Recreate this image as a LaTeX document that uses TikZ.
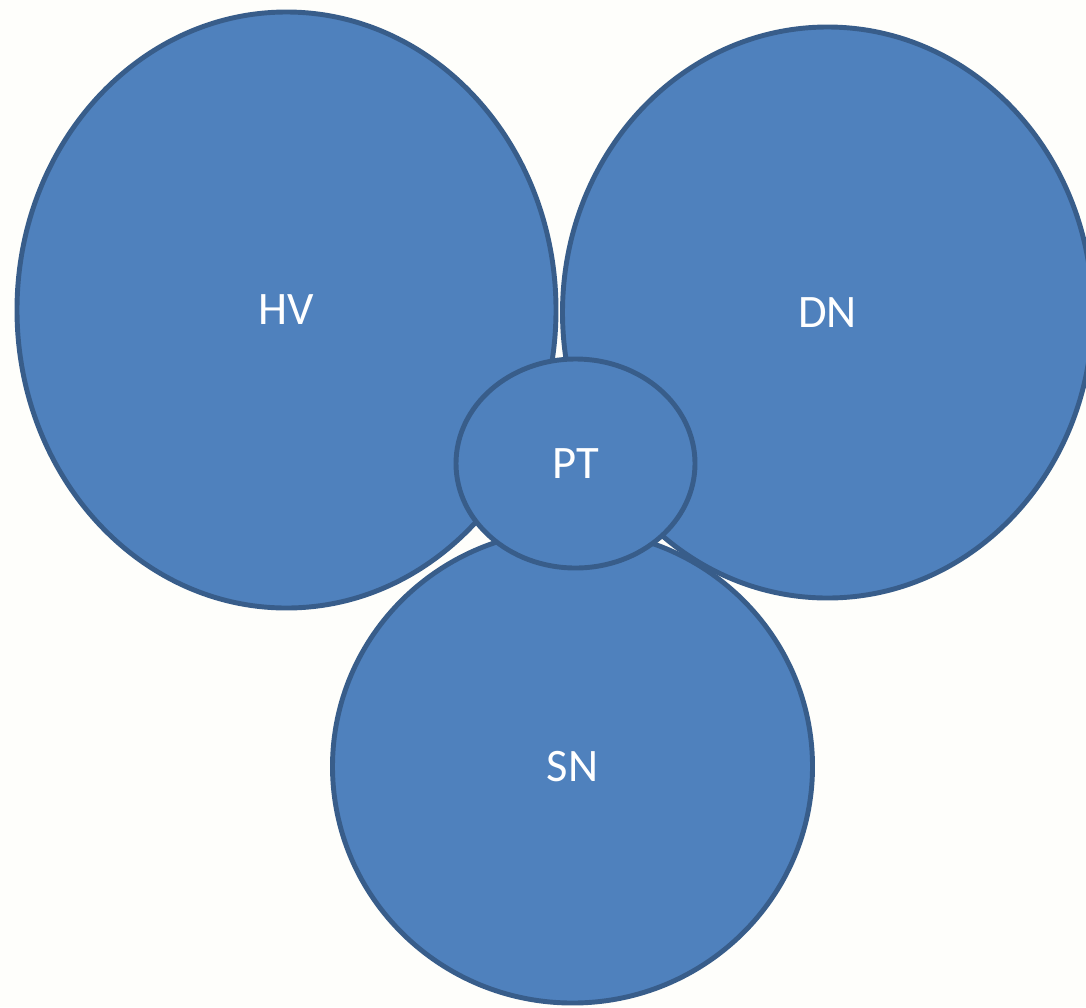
\documentclass[tikz,border=0pt]{standalone}
\usepackage{fontspec}
\setmainfont{Carlito}
\usetikzlibrary{shapes.geometric}
\definecolor{blobfill}{RGB}{79,129,189}
\definecolor{blobedge}{RGB}{56,93,138}
\definecolor{paper}{RGB}{254,254,251}
\tikzset{
  blob/.style={ellipse, draw=blobedge, fill=blobfill, line width=2.8pt, inner sep=0pt,
    text=white, font=\fontsize{26.5}{30}\selectfont},
}
\begin{document}
\begin{tikzpicture}
    % page
    \fill[paper] (0,0) rectangle (21.72,-20.14);
    \useasboundingbox (0,0) rectangle (21.72,-20.14);
    % big ellipses
    \node[blob, minimum width=10.78cm, minimum height=11.92cm] (hv) at (5.73,-6.2) {HV};
    \node[blob, minimum width=10.6cm, minimum height=11.42cm] (dn) at (16.55,-6.25) {DN};
    \node[blob, minimum width=9.6cm, minimum height=9.46cm] (sn) at (11.45,-15.33) {SN};
    % small one on top
    \node[blob, minimum width=4.78cm, minimum height=4.18cm] (pt) at (11.51,-9.27) {PT};
\end{tikzpicture}
\end{document}
